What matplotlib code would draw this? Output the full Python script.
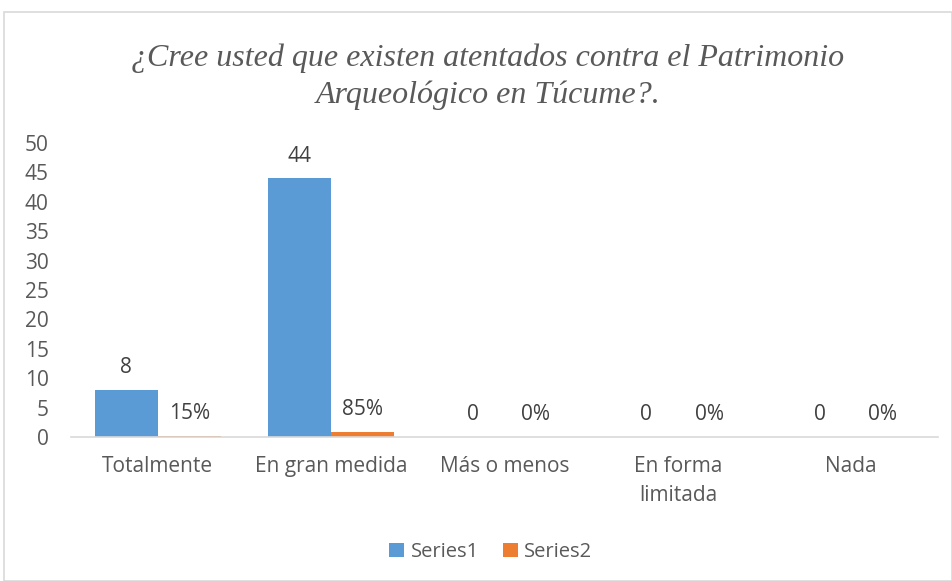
import numpy as np
import matplotlib.pyplot as plt
from matplotlib.patches import Rectangle

categorias = ["Totalmente", "En gran medida", "Más o menos", "En forma\nlimitada", "Nada"]
series1 = [8, 44, 0, 0, 0]
series2 = [0.15, 0.85, 0, 0, 0]
titulo = "¿Cree usted que existen atentados contra el Patrimonio\nArqueológico en Túcume?."

gris = "#595959"
azul = "#5b9bd5"
naranja = "#ed7d31"
fuente = "Open Sans"

fig = plt.figure(figsize=(9.53, 5.81), dpi=100)
fig.patches.append(Rectangle((4/953, 0), 948/953, 1 - 12/581, transform=fig.transFigure,
                             fill=False, edgecolor="#d9d9d9", lw=1.2))

ax = fig.add_axes([71/953, 1 - 437/581, (938-71)/953, (437-143)/581])
x = np.arange(len(categorias))
w = 0.363
b1 = ax.bar(x - w/2, series1, w, color=azul)
b2 = ax.bar(x + w/2, series2, w, color=naranja)

for r, v in zip(b1, series1):
    ax.annotate(str(v), (r.get_x() + r.get_width()/2, v), xytext=(0, 16), textcoords="offset points",
                ha="center", va="center", fontsize=15, color="#404040", family=fuente)
for r, v in zip(b2, series2):
    ax.annotate(f"{v:.0%}", (r.get_x() + r.get_width()/2, v), xytext=(0, 16), textcoords="offset points",
                ha="center", va="center", fontsize=15, color="#404040", family=fuente)

ax.set_xlim(-0.5, len(categorias) - 0.5)
ax.set_ylim(0, 50)
ax.set_yticks(range(0, 51, 5))
ax.set_xticks(x)
ax.set_xticklabels(categorias, linespacing=1.45)
for lab in ax.get_yticklabels() + ax.get_xticklabels():
    lab.set_family(fuente)
    lab.set_fontsize(15)
    lab.set_color(gris)
ax.tick_params(length=0)
ax.tick_params(axis="y", pad=16)
ax.tick_params(axis="x", pad=14)
for s in ["top", "right", "left"]:
    ax.spines[s].set_visible(False)
ax.spines["bottom"].set_color("#d9d9d9")
ax.spines["bottom"].set_linewidth(1.2)

fig.text(0.512, 1 - 77/581, titulo, ha="center", va="center", fontsize=23,
         family="Liberation Serif", style="italic", color=gris, linespacing=1.35)

leg = fig.legend([b1, b2], ["Series1", "Series2"], loc="center", bbox_to_anchor=(0.515, 1 - 552/581),
                 ncol=2, frameon=False, handlelength=0.75, handleheight=0.75, handletextpad=0.3,
                 columnspacing=1.2, prop={"family": fuente, "size": 14.5})
for t in leg.get_texts():
    t.set_color(gris)

fig.savefig("out.png", dpi=100)
